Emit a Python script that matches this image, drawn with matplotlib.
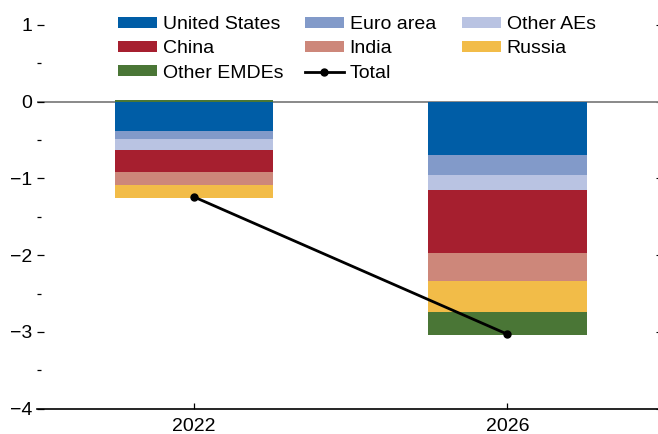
import matplotlib
matplotlib.use("Agg")
import matplotlib.pyplot as plt
import numpy as np
from matplotlib.patches import Patch
from matplotlib.lines import Line2D

years = ["2022", "2026"]
series_names = ["United States", "Euro area", "Other AEs", "China", "India", "Russia", "Other EMDEs"]
united_states = [-0.38, -0.69]
euro_area = [-0.11, -0.26]
other_aes = [-0.14, -0.20]
china = [-0.29, -0.82]
india = [-0.16, -0.37]
russia = [-0.18, -0.40]
other_emdes = [0.02, -0.30]
total = [-1.24, -3.03]
y_ticks = [1, 0, -1, -2, -3, -4]

colors = ["#005DA6", "#829AC9", "#B9C3E2", "#A61F2F", "#CD877A", "#F2BC48", "#4A7636"]

plt.rcParams["font.family"] = ["Liberation Sans", "DejaVu Sans"]
plt.rcParams["font.size"] = 14

fig = plt.figure(figsize=(6.58, 4.34), dpi=100)
ax = fig.add_axes([37/658, 1 - 408.7/434, 1 - 37/658, 408.7/434])

x = np.arange(len(years))
data = [united_states, euro_area, other_aes, china, india, russia, other_emdes]
pos = np.zeros(len(years))
neg = np.zeros(len(years))
handles = []
for name, vals, c in zip(series_names, data, colors):
    vals = np.array(vals)
    bottoms = np.where(vals >= 0, pos, neg)
    ax.bar(x, vals, width=0.505, bottom=bottoms, color=c, zorder=2, linewidth=0)
    pos = pos + np.where(vals >= 0, vals, 0)
    neg = neg + np.where(vals < 0, vals, 0)
    handles.append(Patch(facecolor=c, label=name))

ax.axhline(0, color="#808080", lw=1.3, zorder=1)
ax.plot(x, total, color="black", lw=2, marker="o", markersize=5, zorder=3)
tot_handle = Line2D([], [], color="black", lw=2, marker="o", markersize=5, label="Total")

ax.set_xlim(-0.5, 1.48)
ax.set_ylim(-4, 1.325)
ax.set_xticks(x)
ax.set_xticklabels(years)
ax.set_yticks(y_ticks)
ax.set_yticklabels([("\u2212" + str(abs(t))) if t < 0 else str(t) for t in y_ticks])
ax.set_yticks(np.arange(-3.5, 1.0, 1.0), minor=True)

for s in ["left", "top", "right"]:
    ax.spines[s].set_visible(False)
ax.spines["bottom"].set_linewidth(1.2)
ax.spines["bottom"].set_color("black")

ax.tick_params(axis="y", which="major", direction="in", length=4.8, width=0.9, pad=3.6, colors="black")
ax.tick_params(axis="y", which="minor", direction="in", length=2.9, width=0.9, colors="black")
ax.tick_params(axis="x", which="major", direction="in", length=4.5, width=0.9, pad=6.5)

sec = ax.secondary_yaxis("right")
sec.set_yticks(y_ticks)
sec.set_yticklabels([])
sec.tick_params(direction="in", length=1.5, width=0.8)
sec.spines["right"].set_visible(False)

columns = [[handles[0], handles[3], handles[6]],
           [handles[1], handles[4], tot_handle],
           [handles[2], handles[5]]]
col_x = [118, 305, 462]
for col, cx in zip(columns, col_x):
    fig.legend(handles=col, labels=[h.get_label() for h in col], ncol=1, frameon=False,
               loc="upper left", bbox_to_anchor=(cx/658, 1 - 16/434), borderaxespad=0, borderpad=0,
               handlelength=2.0, handleheight=0.5, handletextpad=0.3,
               labelspacing=0.38, fontsize=14)

fig.savefig("out.png", dpi=100)
